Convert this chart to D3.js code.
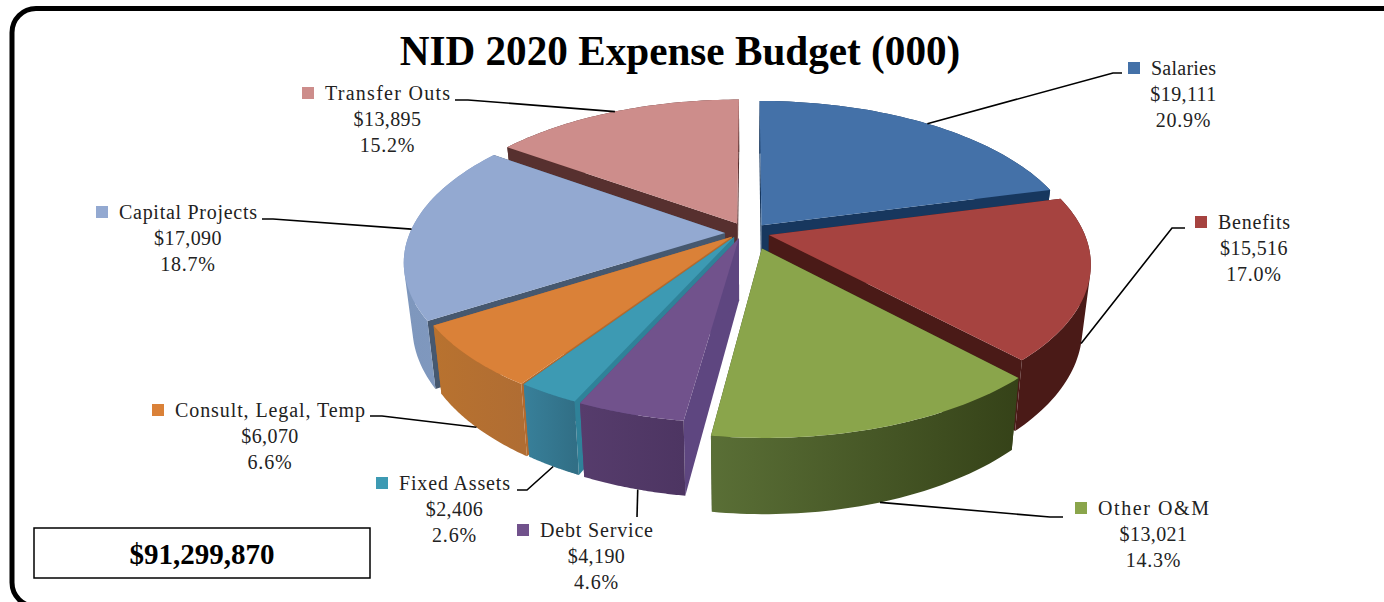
<!DOCTYPE html>
<html><head><meta charset="utf-8">
<script src="https://cdn.jsdelivr.net/npm/d3@7"></script>
<style>html,body{margin:0;padding:0;background:#fff;overflow:hidden}svg{display:block}</style>
</head><body><svg id="c" width="1384" height="602"></svg>
<script>
// data
const categories=["Salaries","Benefits","Other O&M","Debt Service","Fixed Assets","Consult, Legal, Temp","Capital Projects","Transfer Outs"];
const values=[19111,15516,13021,4190,2406,6070,17090,13895];
const valueLabels=["$19,111","$15,516","$13,021","$4,190","$2,406","$6,070","$17,090","$13,895"];
const percentLabels=["20.9%","17.0%","14.3%","4.6%","2.6%","6.6%","18.7%","15.2%"];
const titleText="NID 2020 Expense Budget (000)";
const totalText="$91,299,870";
// styles
const topColors=["#4471a8","#a64340","#8aa54b","#71528c","#3d9ab3","#da8138","#93a9d1","#cd8d8b"];
const cutColors=["#17375e","#4a1a17","#364219","#5e4680","#2f8299","#b36a2e","#46586f","#57302f"];
const wallA=["#17375e","#4a1a17","#5a6f36","#563c6c","#38809a","#b8722f","#7e97bd","#57302f"];
const wallB=["#17375e","#4a1a17","#354218","#4d3562","#316f86","#b06d33","#8199bf","#57302f"];
const explodeX=[.04,.063,.04,-.032,-.047,-.054,-.076,-.038];
const explodeZ=[-.065,0,.088,.022,.014,.012,-.013,-.078];
const drawOrder=[7,0,6,1,5,4,3,2];
// labels
const labelX=[1183.5,1254,1153.5,596.5,454.5,270,188,387.5];
const labelY=[75,229,515,537,490,417,219,100];
const nameWidth=[65,72,111,113,111,190,138,125];
const leaderDepth=[0,1,1,1,1,1,0,0];
const leaderShift=[0,0,0,-.0135,0,0,0,0];
const leaderElbow=[[1113,73,1122,73],[1172,228,1185,228],[1050,517,1063,517],[637,517,637,517],[527,490,517,490],[382,416,370,416],[273,219,262,219],[468,100,455,100]];

const svg=d3.select("#c");
const defs=svg.append("defs");
const cx=749,cy=235,R=316,F=150,K=.18,S=.975;
const pieGen=d3.pie().sort(null).value(d=>d);
const arcs=pieGen(values);
function proj(wx,wz,bottom){
  const d=1-K*wz;
  let X=cx+R*wx/d,Y=cy+F*wz/d;
  if(bottom){Y=Y+62+.07*(Y-235);X=cx+S*(X-cx);}
  return [X,Y];
}
function pt(i,a,r,bottom){
  return proj(explodeX[i]+r*Math.sin(a),explodeZ[i]-r*Math.cos(a),bottom);
}
const line=d3.line().curve(d3.curveLinear);
function rim(i,bottom){
  const t=d3.scaleLinear().domain([0,48]).range([arcs[i].startAngle,arcs[i].endAngle]);
  return d3.range(49).map(k=>pt(i,t(k),1,bottom));
}
function apex(i,bottom){return pt(i,0,0,bottom);}

svg.append("rect").attr("x",12).attr("y",8.5).attr("width",1400).attr("height",598).attr("rx",24).attr("ry",24)
  .attr("fill","#fff").attr("stroke","#000").attr("stroke-width",5);

const pie=svg.append("g");
drawOrder.forEach(i=>{
  const g=pie.append("g");
  const r0=rim(i,false),b0=rim(i,true);
  const id="w"+i;
  const xs=r0.map(p=>p[0]);
  const gr=defs.append("linearGradient").attr("id",id).attr("gradientUnits","userSpaceOnUse")
    .attr("x1",d3.min(xs)).attr("x2",d3.max(xs)).attr("y1",0).attr("y2",0);
  gr.append("stop").attr("offset",0).attr("stop-color",wallA[i]);
  gr.append("stop").attr("offset",1).attr("stop-color",wallB[i]);
  // radial cut walls
  [0,48].forEach(j=>{
    g.append("path").attr("d",line([apex(i,false),r0[j],b0[j],apex(i,true)])+"Z").attr("fill",cutColors[i]);
  });
  // outer wall: one path of consistently wound strips, so no seams and a closed silhouette
  const wallPath=d3.range(48).map(k=>{
    const q=[r0[k],r0[k+1],b0[k+1],b0[k]];
    if(d3.polygonArea(q)<0) q.reverse();
    return line(q)+"Z";
  }).join("");
  g.append("path").attr("d",wallPath).attr("fill",`url(#${id})`).attr("fill-rule","nonzero");
  // top
  g.append("path").attr("d",line([apex(i,false)].concat(r0))+"Z").attr("fill",topColors[i]);
});

// leaders
const lead=svg.append("g").attr("fill","none").attr("stroke","#000").attr("stroke-width",1.6);
categories.forEach((c,i)=>{
  const m=(arcs[i].startAngle+arcs[i].endAngle)/2+leaderShift[i];
  const t=pt(i,m,1,false),b=pt(i,m,1,true),f=leaderDepth[i];
  const p=[t[0]+(b[0]-t[0])*f,t[1]+(b[1]-t[1])*f];
  const e=leaderElbow[i];
  lead.append("path").attr("d",line([p,[e[0],e[1]],[e[2],e[3]]]));
});
// labels
const serif="'Liberation Serif','Times New Roman',serif";
categories.forEach((c,i)=>{
  const g=svg.append("g").attr("font-family",serif).attr("font-size",20).attr("fill","#222").attr("text-anchor","middle");
  g.append("text").attr("x",labelX[i]).attr("y",labelY[i]).attr("textLength",nameWidth[i]).attr("lengthAdjust","spacing").text(c);
  g.append("text").attr("x",labelX[i]).attr("y",labelY[i]+26).attr("letter-spacing",.4).text(valueLabels[i]);
  g.append("text").attr("x",labelX[i]).attr("y",labelY[i]+52).attr("letter-spacing",.8).text(percentLabels[i]);
  svg.append("rect").attr("x",labelX[i]-nameWidth[i]/2-23).attr("y",labelY[i]-13).attr("width",12).attr("height",12).attr("fill",topColors[i]);
});
svg.append("text").attr("x",680).attr("y",65).attr("text-anchor","middle").attr("font-family",serif).attr("font-weight","bold").attr("font-size",41.2).attr("fill","#000").text(titleText);
svg.append("rect").attr("x",34).attr("y",528).attr("width",336).attr("height",50).attr("fill","#fff").attr("stroke","#000").attr("stroke-width",1.5);
svg.append("text").attr("x",202).attr("y",564).attr("text-anchor","middle").attr("font-family",serif).attr("font-weight","bold").attr("font-size",29).attr("fill","#000").text(totalText);
</script></body></html>
